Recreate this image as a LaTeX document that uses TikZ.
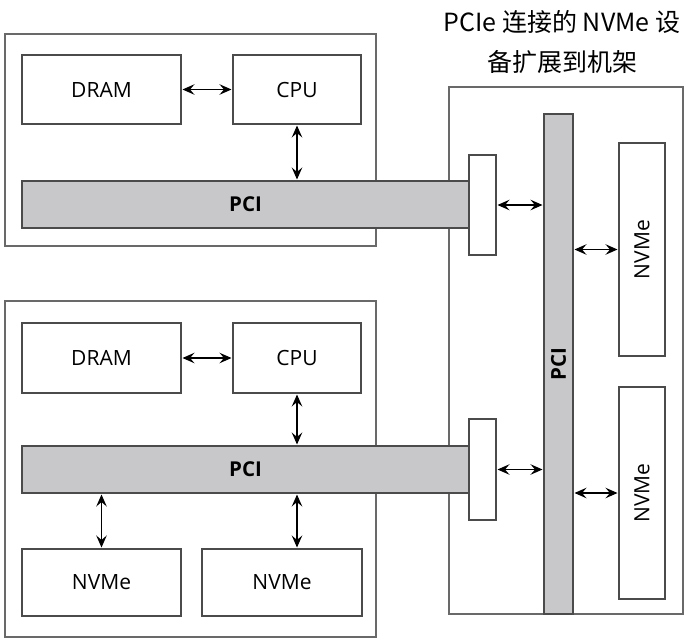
\documentclass[tikz,border=0pt]{standalone}
\usepackage{fontspec}
\setmainfont{Open Sans}
\newfontfamily\cjk{Noto Sans CJK SC}
\usetikzlibrary{arrows.meta}
\definecolor{edgecol}{RGB}{75,75,75}
\definecolor{enclcol}{RGB}{105,105,105}
\definecolor{busfill}{RGB}{200,200,202}
\begin{document}
\begin{tikzpicture}[x=1pt,y=-1pt,
  lbl/.style={font=\fontsize{21}{24}\selectfont},
  blbl/.style={font=\bfseries\fontsize{20.5}{24}\selectfont},
  box/.style={draw=edgecol, line width=1.3pt, fill=white, inner sep=0pt, outer sep=0pt, anchor=north west, lbl},
  bus/.style={box, fill=busfill, blbl},
  encl/.style={draw=enclcol, line width=1.3pt, inner sep=0pt, outer sep=0pt, anchor=north west},
  tip/.style={Stealth[length=12pt,width=10.5pt,inset=4.5pt]},
  link/.style={{Stealth[length=12pt,width=10.5pt,inset=4.5pt]}-{Stealth[length=12pt,width=10.5pt,inset=4.5pt]}, line width=1.2pt, shorten >=1.5pt, shorten <=1.5pt}]
\useasboundingbox (0,0) rectangle (685,637);
% enclosures
\node[encl, minimum width=371pt, minimum height=212pt] (host1) at (5,34) {};
\node[encl, minimum width=371pt, minimum height=336pt] (host2) at (5,301) {};
\node[encl, minimum width=234pt, minimum height=527pt] (rack) at (449,87) {};
% title
\node[align=center, font=\cjk\fontsize{25}{40}\selectfont] (title) at (562,42) {PCIe 连接的 NVMe 设\\备扩展到机架};
% host 1
\node[box, minimum width=159pt, minimum height=69pt] (dram1) at (22,55) {DRAM};
\node[box, minimum width=128pt, minimum height=69pt] (cpu1) at (233,55) {CPU};
\node[bus, minimum width=447pt, minimum height=47pt] (pci1) at (22,181) {PCI};
\node[box, minimum width=27pt, minimum height=100pt] (slot1) at (469,155) {};
% host 2
\node[box, minimum width=159pt, minimum height=70pt] (dram2) at (22,323) {DRAM};
\node[box, minimum width=128pt, minimum height=70pt] (cpu2) at (233,323) {CPU};
\node[bus, minimum width=447pt, minimum height=47pt] (pci2) at (22,446) {PCI};
\node[box, minimum width=27pt, minimum height=101pt] (slot2) at (469,419) {};
\node[box, minimum width=159pt, minimum height=67pt] (nvl1) at (22,549) {NVMe};
\node[box, minimum width=160pt, minimum height=67pt] (nvl2) at (202,549) {NVMe};
% rack
\node[box, fill=busfill, minimum width=29pt, minimum height=500pt, label={[rotate=90, blbl]center:PCI}] (vbus) at (544,114) {};
\node[box, minimum width=46pt, minimum height=213pt, label={[rotate=90, lbl]center:NVMe}] (nvr1) at (619,143) {};
\node[box, minimum width=46pt, minimum height=212pt, label={[rotate=90, lbl]center:NVMe}] (nvr2) at (619,387) {};
% links
\draw[link] (dram1.east) -- (cpu1.west);
\draw[link] (cpu1.south) -- (cpu1.south |- pci1.north);
\draw[link] (slot1.east) -- (slot1.east -| vbus.west);
\draw[link] (nvr1.west -| vbus.east) -- (nvr1.west);
\draw[link] (dram2.east) -- (cpu2.west);
\draw[link] (cpu2.south) -- (cpu2.south |- pci2.north);
\draw[link] (slot2.east) -- (slot2.east -| vbus.west);
\draw[link] (vbus.east |- nvr2.west) -- (nvr2.west);
\draw[link] (pci2.south -| nvl1.north) -- (nvl1.north);
\draw[link] (pci2.south -| cpu2.south) -- (nvl2.north -| cpu2.south);
\end{tikzpicture}
\end{document}
